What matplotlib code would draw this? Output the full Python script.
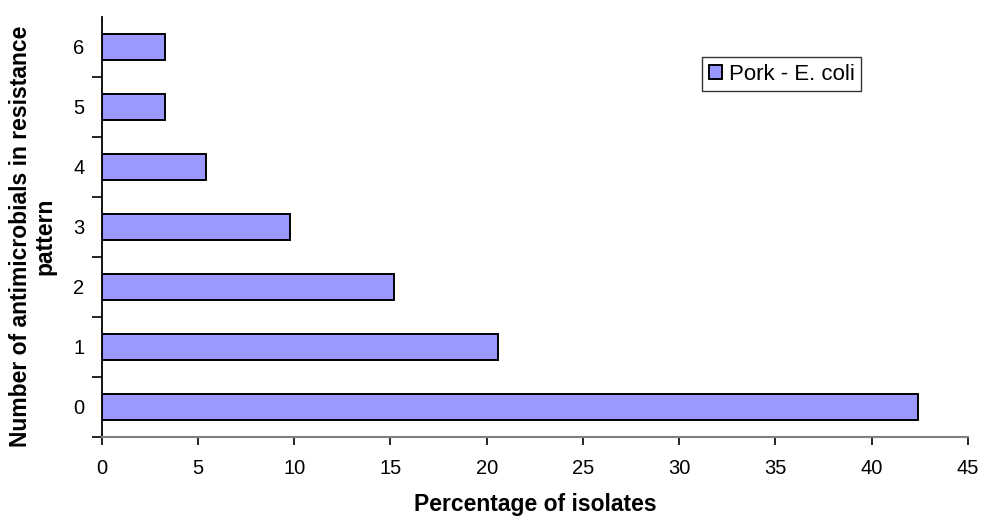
import numpy as np
import matplotlib.pyplot as plt
from matplotlib.ticker import FixedLocator

plt.rcParams['font.family'] = ['Liberation Sans', 'DejaVu Sans']

# Share of isolates by number of antimicrobials in the resistance pattern
categories = ["0", "1", "2", "3", "4", "5", "6"]
percent = [42.4, 20.6, 15.2, 9.8, 5.4, 3.3, 3.3]
series_name = "Pork - E. coli"

fig = plt.figure(figsize=(9.83, 5.16), dpi=100)
ax = fig.add_axes([0.1035, 0.1537, 0.8812, 0.8139])

y = np.arange(len(categories))
ax.barh(y, percent, height=0.43, color="#9999FF", edgecolor="black",
        linewidth=1.4, label=series_name, zorder=3)

ax.set_xlim(0, 45)
ax.set_ylim(-0.5, len(categories) - 0.5)
ax.set_xticks(np.arange(0, 46, 5))
ax.set_yticks(y)
ax.set_yticklabels(categories)
# tick marks sit between the categories, labels at the centres
ax.yaxis.set_minor_locator(FixedLocator(np.arange(-0.5, len(categories) - 0.5, 1)))
ax.tick_params(axis="y", which="major", length=0, pad=12.5, labelsize=14.5)
ax.tick_params(axis="y", which="minor", length=7, width=1.2, direction="out")
ax.tick_params(axis="x", length=6, width=1.2, pad=10, labelsize=14.5)

for side in ("top", "right"):
    ax.spines[side].set_visible(False)
ax.spines["left"].set_color("black")
ax.spines["left"].set_linewidth(1.3)
ax.spines["bottom"].set_color("#808080")
ax.spines["bottom"].set_linewidth(1.5)

# axis titles
fig.text(535 / 983, 0.009, "Percentage of isolates", fontsize=16.5,
         fontweight="bold", ha="center", va="baseline")
fig.text(33 / 983, 1 - 236 / 516, "Number of antimicrobials in resistance\npattern",
         fontsize=16.5, fontweight="bold", rotation=90, ha="center", va="center",
         multialignment="center", linespacing=1.1)

leg = ax.legend(loc="upper left", bbox_to_anchor=(0.693, 0.904), fontsize=16,
                frameon=True, fancybox=False, edgecolor="black",
                handlelength=0.6, handleheight=0.6, handletextpad=0.3,
                borderpad=0.3, borderaxespad=0)
leg.get_frame().set_linewidth(1.0)

fig.savefig("out.png", dpi=100)
